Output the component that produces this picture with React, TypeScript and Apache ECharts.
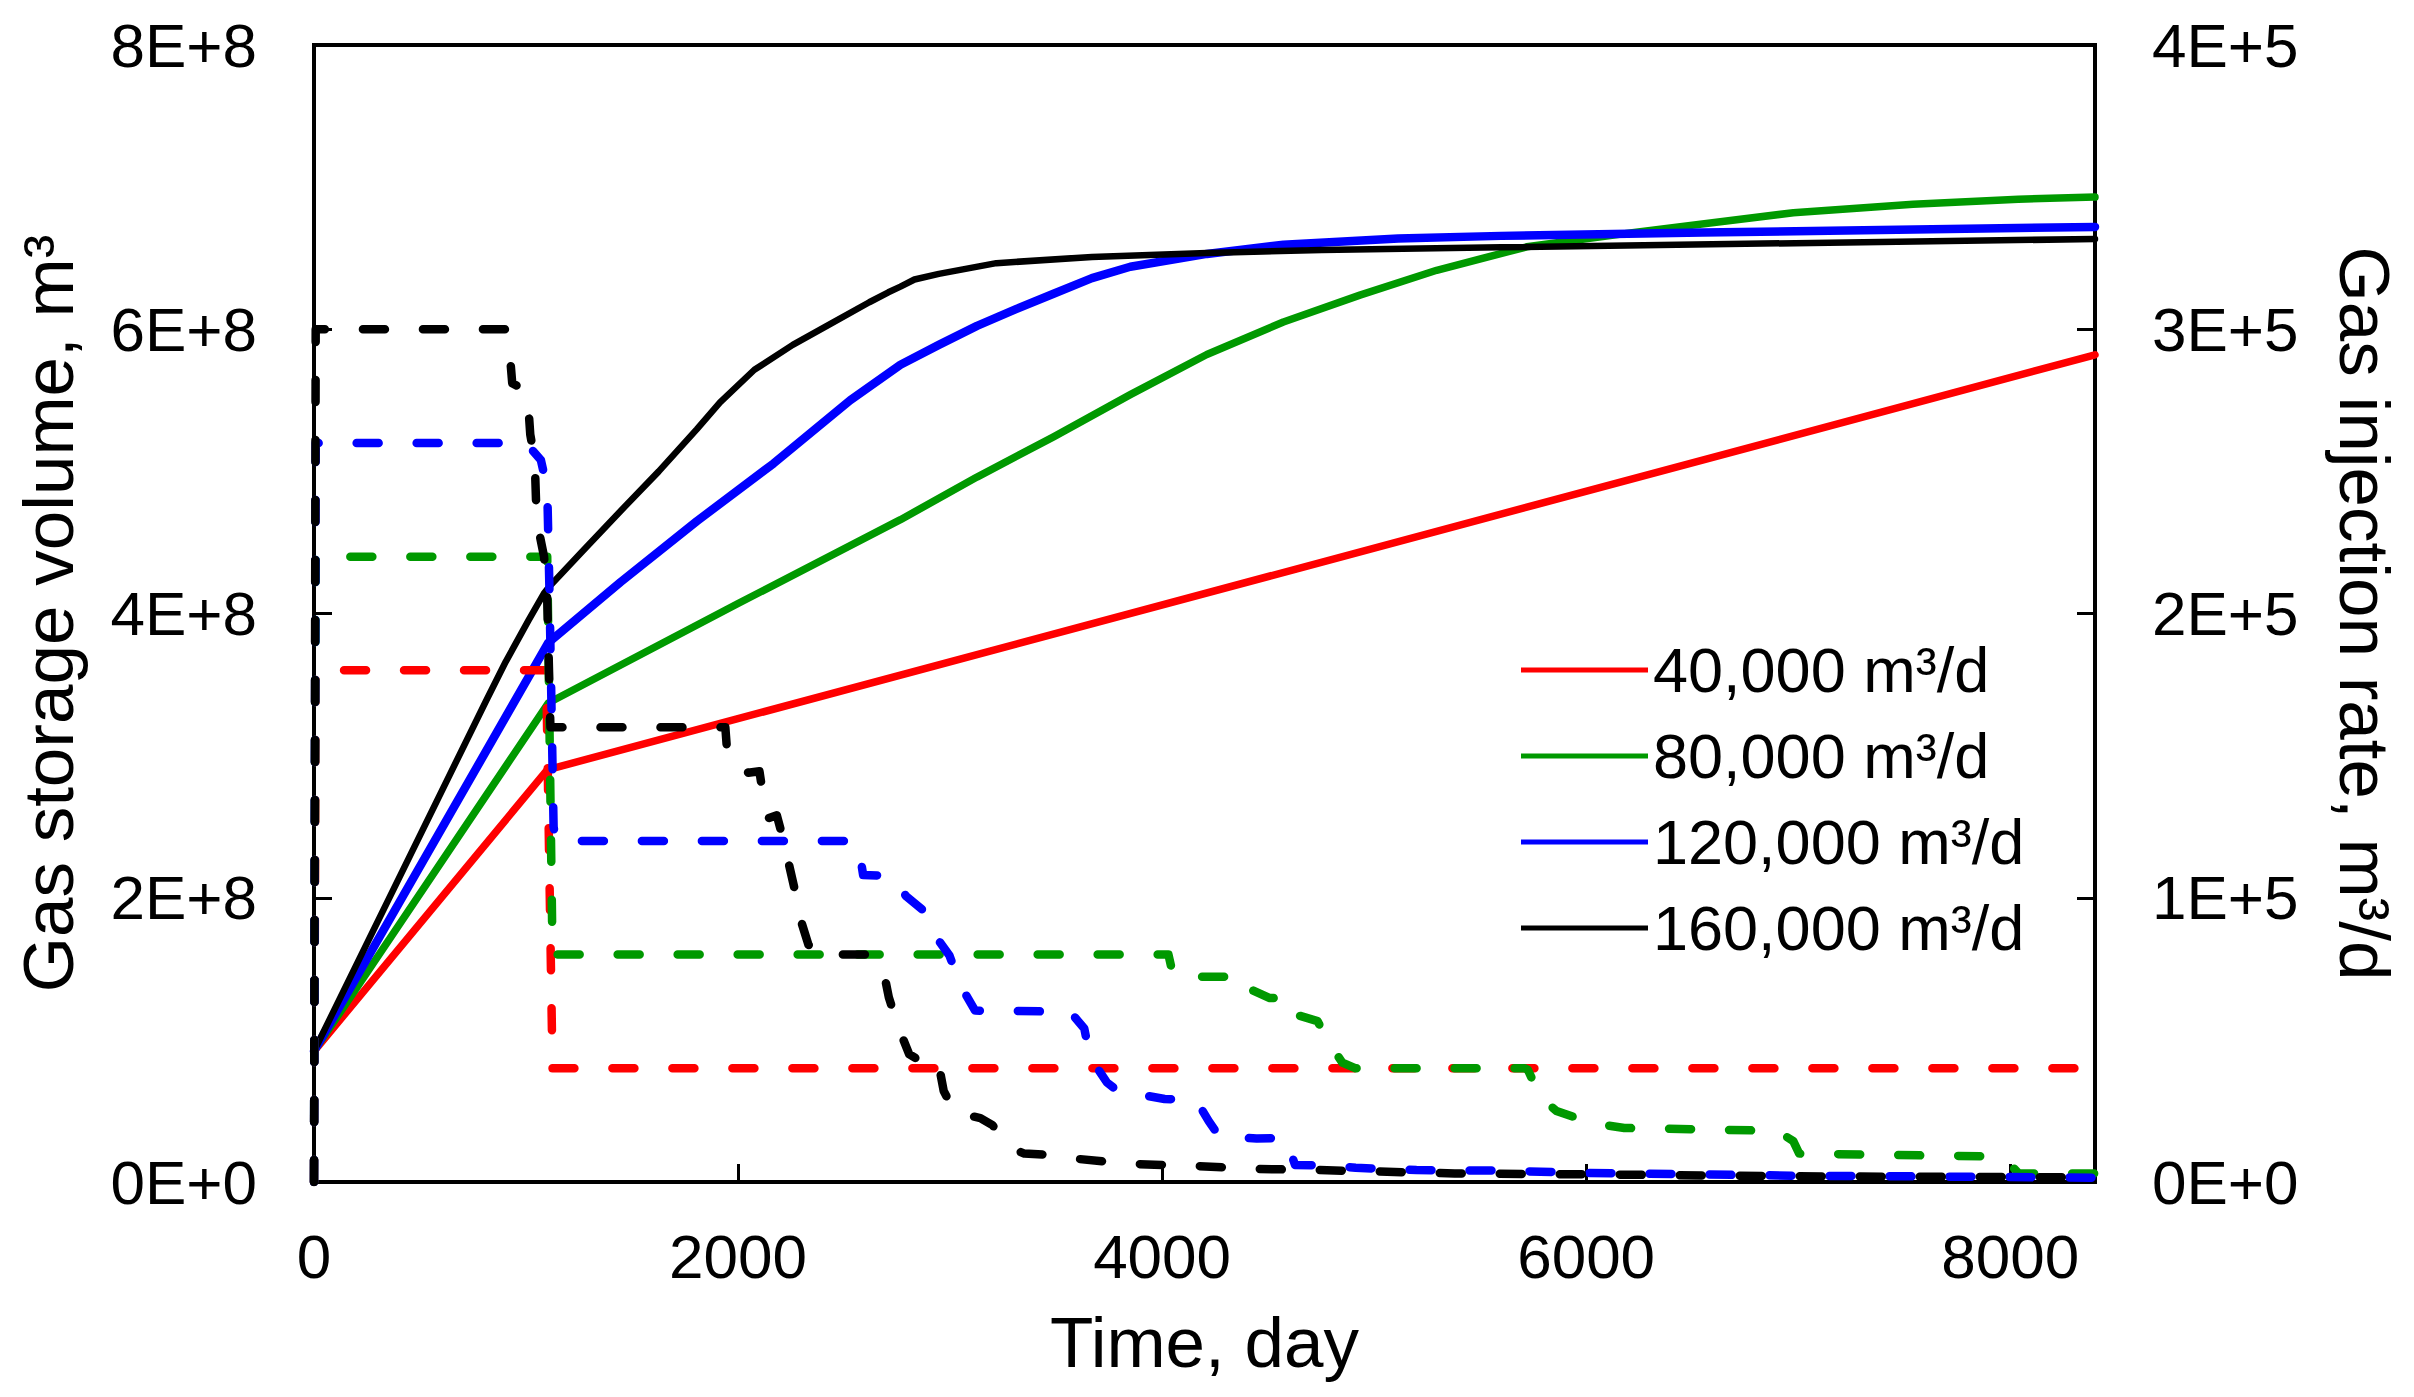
import React, { useEffect, useRef } from "react";
import * as echarts from "echarts";

// ---------- data ----------
const seriesNames = ["40,000 m³/d", "80,000 m³/d", "120,000 m³/d", "160,000 m³/d"];
const seriesColors = ["#ff0000", "#009900", "#0000ff", "#000000"];
const solidWidths = [7.5, 7.5, 8.5, 6.5];

const xTickValues = [0, 2000, 4000, 6000, 8000];

// Gas storage volume (m³) vs time (day)
const volume40k: [number, number][] = [
  [0, 0.92e8], [1100, 2.9e8], [8400, 5.82e8],
];
const volume80k: [number, number][] = [
  [0, 0.92e8], [1105, 3.37e8], [2000, 4.07e8], [2766, 4.66e8], [3127, 4.96e8],
  [3488, 5.243e8], [3850, 5.54e8], [4211, 5.822e8], [4572, 6.051e8], [4933, 6.24e8],
  [5295, 6.415e8], [5720, 6.58e8], [6218, 6.68e8], [6977, 6.82e8], [7542, 6.88e8],
  [8038, 6.915e8], [8400, 6.93e8],
];
const volume120k: [number, number][] = [
  [0, 0.92e8], [1105, 3.795e8], [1445, 4.22e8], [1806, 4.65e8], [2167, 5.055e8],
  [2529, 5.5e8], [2766, 5.75e8], [2947, 5.89e8], [3127, 6.024e8], [3308, 6.14e8],
  [3488, 6.25e8], [3669, 6.36e8], [3850, 6.44e8], [4211, 6.53e8], [4572, 6.595e8],
  [5114, 6.639e8], [5598, 6.657e8], [6549, 6.68e8], [8400, 6.72e8],
];
const volume160k: [number, number][] = [
  [0, 0.92e8], [813, 3.39e8], [904, 3.66e8], [1011, 3.95e8], [1084, 4.14e8],
  [1110, 4.19e8], [1264, 4.435e8], [1445, 4.72e8], [1626, 5.0e8], [1806, 5.297e8],
  [1915, 5.486e8], [2077, 5.715e8], [2258, 5.89e8], [2438, 6.04e8], [2619, 6.19e8],
  [2709, 6.26e8], [2766, 6.3e8], [2832, 6.35e8], [2947, 6.39e8], [3218, 6.465e8],
  [3669, 6.509e8], [4211, 6.536e8], [4753, 6.558e8], [5598, 6.577e8], [8400, 6.635e8],
];

// Gas injection rate (m³/d) vs time (day)
const rate40k: [number, number][] = [
  [0, 0], [8, 1.8e5], [1095, 1.8e5], [1125, 0.4e5], [8400, 0.4e5],
];
const rate80k: [number, number][] = [
  [0, 0], [8, 2.2e5], [1100, 2.2e5], [1125, 0.8e5], [4030, 0.8e5], [4045, 0.75e5],
  [4071, 0.722e5], [4390, 0.722e5], [4410, 0.68e5], [4508, 0.647e5], [4597, 0.647e5],
  [4625, 0.59e5], [4733, 0.566e5], [4793, 0.483e5], [4850, 0.42e5], [4913, 0.4e5],
  [5711, 0.4e5], [5725, 0.395e5], [5787, 0.295e5], [5860, 0.25e5], [6027, 0.207e5],
  [6180, 0.19e5], [6900, 0.18e5], [6977, 0.144e5], [7005, 0.1e5], [7925, 0.09e5],
  [7990, 0.07e5], [8040, 0.03e5], [8400, 0.03e5],
];
const rate120k: [number, number][] = [
  [0, 0], [8, 2.6e5], [1000, 2.6e5], [1070, 2.54e5], [1100, 2.44e5], [1110, 2.1e5],
  [1130, 1.25e5], [1140, 1.2e5], [2550, 1.2e5], [2575, 1.15e5], [2590, 1.08e5],
  [2724, 1.077e5], [2793, 1.005e5], [2875, 0.955e5], [2929, 0.867e5], [2997, 0.797e5],
  [3050, 0.69e5], [3118, 0.603e5], [3470, 0.6e5], [3565, 0.6e5], [3633, 0.54e5],
  [3660, 0.44e5], [3740, 0.35e5], [3800, 0.315e5], [3875, 0.31e5], [4012, 0.292e5],
  [4161, 0.288e5], [4220, 0.214e5], [4270, 0.16e5], [4446, 0.153e5], [4583, 0.155e5],
  [4627, 0.06e5], [4780, 0.058e5], [4913, 0.05e5], [5200, 0.042e5], [5600, 0.04e5],
  [6000, 0.032e5], [6500, 0.027e5], [7000, 0.022e5], [7500, 0.02e5], [8400, 0.015e5],
];
const rate160k: [number, number][] = [
  [0, 0], [8, 3.0e5], [904, 3.0e5], [925, 2.9e5], [935, 2.81e5], [985, 2.79e5],
  [1009, 2.75e5], [1020, 2.63e5], [1041, 2.54e5], [1050, 2.33e5], [1085, 2.2e5],
  [1100, 2.05e5], [1115, 1.6e5], [1940, 1.6e5], [1950, 1.5e5], [2048, 1.44e5],
  [2101, 1.445e5], [2114, 1.38e5], [2143, 1.28e5], [2183, 1.29e5], [2208, 1.22e5],
  [2238, 1.124e5], [2265, 1.036e5], [2292, 0.93e5], [2332, 0.835e5], [2380, 0.8e5],
  [2603, 0.8e5], [2684, 0.75e5], [2711, 0.65e5], [2753, 0.55e5], [2807, 0.45e5],
  [2850, 0.43e5], [2943, 0.427e5], [2970, 0.32e5], [3024, 0.244e5], [3143, 0.225e5],
  [3200, 0.2e5], [3240, 0.163e5], [3308, 0.113e5], [3350, 0.1e5], [3469, 0.095e5],
  [3606, 0.081e5], [3767, 0.069e5], [3890, 0.063e5], [4163, 0.056e5], [4450, 0.046e5],
  [4740, 0.042e5], [5380, 0.03e5], [6000, 0.027e5], [7000, 0.02e5], [8400, 0.016e5],
];

const volumeData = [volume40k, volume80k, volume120k, volume160k];
const rateData = [rate40k, rate80k, rate120k, rate160k];

// ---------- chart ----------
const FONT = "'Liberation Sans', Arial, Helvetica, sans-serif";

export default function App() {
  const ref = useRef<HTMLDivElement>(null);

  useEffect(() => {
    document.body.style.margin = "0";
    document.body.style.overflow = "hidden";
    if (!ref.current) return;
    const chart = echarts.init(ref.current, undefined, { renderer: "svg" });

    const axisLineStyle = { color: "#000", width: 4 };
    const tickStyle = { color: "#000", width: 3 };
    const labelBase = { color: "#000", fontSize: 62, fontFamily: FONT };
    const nameStyle = { color: "#000", fontSize: 71, fontFamily: FONT };

    const solidSeries = seriesNames.map((name, i) => ({
      name,
      type: "line",
      yAxisIndex: 0,
      data: volumeData[i],
      symbol: "none",
      showSymbol: false,
      color: seriesColors[i],
      lineStyle: { color: seriesColors[i], width: solidWidths[i], join: "round", cap: "round" },
      z: 2,
    }));
    const dashedSeries = seriesNames.map((name, i) => ({
      name: name + " rate",
      type: "line",
      yAxisIndex: 1,
      data: rateData[i],
      symbol: "none",
      showSymbol: false,
      color: seriesColors[i],
      lineStyle: { color: seriesColors[i], width: 8.5, type: [22, 38], cap: "round", join: "round" },
      z: 3,
    }));

    const option = {
      animation: false,
      backgroundColor: "#ffffff",
      grid: {
        left: 314, top: 45, width: 1781, height: 1137,
        show: true, borderColor: "#000", borderWidth: 4, backgroundColor: "transparent",
      },
      legend: {
        data: seriesNames,
        orient: "vertical",
        left: 1521,
        top: 638,
        padding: 0,
        itemWidth: 127,
        itemHeight: 5,
        itemGap: 22,
        icon: "rect",
        selectedMode: false,
        textStyle: { color: "#000", fontSize: 63, fontFamily: FONT, lineHeight: 64 },
      },
      xAxis: {
        type: "value",
        min: 0,
        max: 8400,
        interval: 2000,
        name: "Time, day",
        nameLocation: "middle",
        nameGap: 125,
        nameTextStyle: nameStyle,
        axisLine: { show: true, onZero: false, lineStyle: axisLineStyle },
        axisTick: { show: true, inside: true, length: 18, lineStyle: tickStyle },
        axisLabel: {
          ...labelBase,
          margin: 43,
          formatter: (v: number) => (xTickValues.includes(v) ? String(v) : ""),
        },
        splitLine: { show: false },
      },
      yAxis: [
        {
          type: "value",
          position: "left",
          min: 0,
          max: 8e8,
          interval: 2e8,
          name: "Gas storage volume, m³",
          nameLocation: "middle",
          nameRotate: 90,
          nameGap: 230,
          nameTextStyle: nameStyle,
          axisLine: { show: true, lineStyle: axisLineStyle },
          axisTick: { show: true, inside: true, length: 18, lineStyle: tickStyle },
          axisLabel: {
            ...labelBase,
            margin: 57,
            formatter: (v: number) => `${Math.round(v / 1e8)}E+${v === 0 ? 0 : 8}`,
          },
          splitLine: { show: false },
        },
        {
          type: "value",
          position: "right",
          min: 0,
          max: 4e5,
          interval: 1e5,
          name: "Gas injection rate, m³/d",
          nameLocation: "middle",
          nameRotate: -90,
          nameGap: 234,
          nameTextStyle: nameStyle,
          axisLine: { show: true, lineStyle: axisLineStyle },
          axisTick: { show: true, inside: true, length: 18, lineStyle: tickStyle },
          axisLabel: {
            ...labelBase,
            margin: 57,
            formatter: (v: number) => `${Math.round(v / 1e5)}E+${v === 0 ? 0 : 5}`,
          },
          splitLine: { show: false },
        },
      ],
      series: [...solidSeries, ...dashedSeries],
    };

    chart.setOption(option as any);
    return () => chart.dispose();
  }, []);

  return <div ref={ref} style={{ width: "2414px", height: "1397px" }} />;
}
